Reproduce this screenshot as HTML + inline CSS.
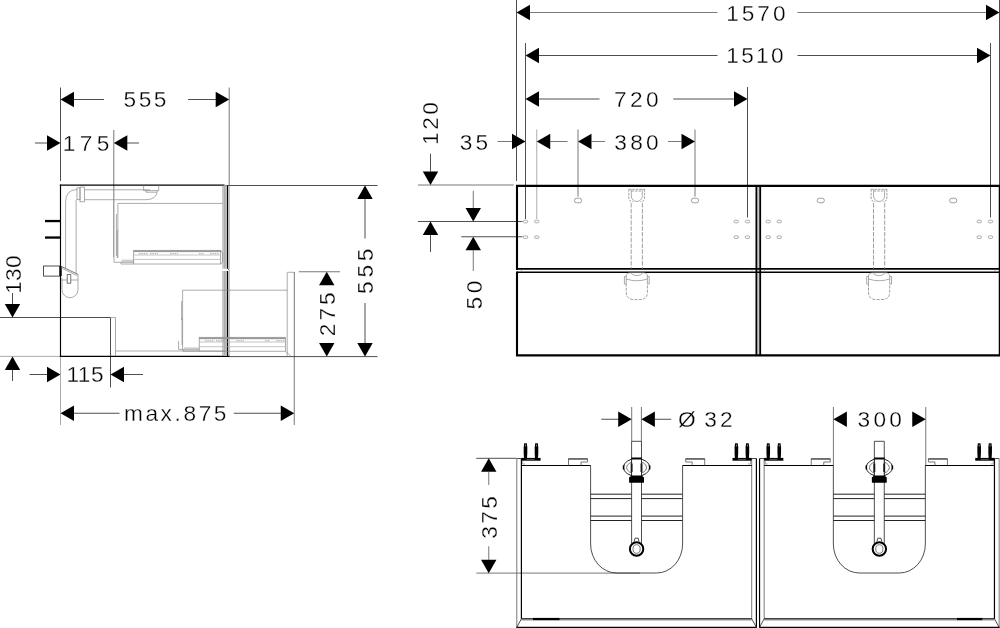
<!DOCTYPE html>
<html><head><meta charset="utf-8"><title>Drawing</title>
<style>
html,body{margin:0;padding:0;background:#fff;}
svg{display:block;}
text{font-family:"Liberation Sans",sans-serif;fill:#000;stroke:#fff;stroke-width:0.3px;paint-order:fill stroke;}
.a{fill:#000;stroke:none;}
.k{stroke:#000;stroke-width:1.5;fill:none;}
.k2{stroke:#000;stroke-width:1.2;fill:none;}
.d{stroke:#222;stroke-width:0.8;fill:none;}
.m{stroke:#555;stroke-width:0.8;fill:none;}
.g{stroke:#888;stroke-width:0.7;fill:none;}
.l{stroke:#aaa;stroke-width:0.7;fill:none;}
.ds{stroke:#777;stroke-width:0.7;fill:none;stroke-dasharray:4.5 1.3;}
.b{fill:#000;stroke:none;}
.f{fill:#bbb;stroke:none;}
</style></head><body>
<svg style="filter:grayscale(1)" width="1000" height="628" viewBox="0 0 1000 628">
<rect x="0" y="0" width="1000" height="628" fill="#fff"/>
<g id="side">
<path class="d" d="M60.5,87.5L60.5,181"/>
<path class="m" d="M229.2,87.5L229.2,185"/>
<polygon class="a" points="60.5,99.5 74.0,91.8 74.0,107.2"/>
<path class="d" d="M74,99.5L104,99.5"/>
<polygon class="a" points="229.2,99.5 215.7,91.8 215.7,107.2"/>
<path class="d" d="M188,99.5L216,99.5"/>
<text transform="translate(123.57,107.3) scale(1.04,1)" font-size="21.8" letter-spacing="2.443">555</text>
<path class="d" d="M35,143L47,143"/>
<polygon class="a" points="60.5,143 47.0,135.3 47.0,150.7"/>
<polygon class="a" points="113.8,143 127.3,135.3 127.3,150.7"/>
<path class="d" d="M127,143L139,143"/>
<path class="m" d="M113.8,130L113.8,257"/>
<text transform="translate(62.64,150.8) scale(1.04,1)" font-size="21.8" letter-spacing="4.334">175</text>
<path class="d" d="M0,317.5L110.5,317.5"/>
<path class="g" d="M0,356.4L60,356.4"/>
<polygon class="a" points="12.5,317.5 4.8,304.0 20.2,304.0"/>
<path class="d" d="M12.5,293L12.5,304"/>
<polygon class="a" points="12.5,356.5 4.8,370.0 20.2,370.0"/>
<path class="d" d="M12.5,370L12.5,381"/>
<text transform="translate(20.7,293.86) rotate(-90) scale(1.04,1)" font-size="21.8" letter-spacing="0.285">130</text>
<path class="d" d="M29.5,374.5L47,374.5"/>
<polygon class="a" points="60.5,374.5 47.0,366.8 47.0,382.2"/>
<polygon class="a" points="110.5,374.5 124.0,366.8 124.0,382.2"/>
<path class="d" d="M123.5,374.5L143,374.5"/>
<path class="d" d="M110.5,317.5L110.5,387.5"/>
<path class="g" d="M60.5,356L60.5,425"/>
<text transform="translate(66.39,382.3) scale(1.04,1)" font-size="21.8" letter-spacing="0.487">115</text>
<polygon class="a" points="60.5,413.25 74.0,405.55 74.0,420.95"/>
<path class="d" d="M74,413.25L119.5,413.25"/>
<polygon class="a" points="294.25,413.25 280.75,405.55 280.75,420.95"/>
<path class="d" d="M233.75,413.25L281,413.25"/>
<path class="m" d="M294.25,356L294.25,425"/>
<text transform="translate(123.93,421.1) scale(1.04,1)" font-size="21.8" letter-spacing="2.499">max.875</text>
<path class="d" d="M225,185.5L377.5,185.5"/>
<path class="d" d="M229,356.6L377.5,356.6"/>
<polygon class="a" points="365,185.5 357.3,199.0 372.7,199.0"/>
<path class="d" d="M365,199L365,238.5"/>
<polygon class="a" points="365,356.6 357.3,343.1 372.7,343.1"/>
<path class="d" d="M365,303L365,343.5"/>
<text transform="translate(372.7,293.93) rotate(-90) scale(1.04,1)" font-size="21.8" letter-spacing="3.645">555</text>
<path class="m" d="M298.75,271.75L340,271.75"/>
<polygon class="a" points="326.75,271.75 319.05,285.25 334.45,285.25"/>
<polygon class="a" points="326.75,356.6 319.05,343.1 334.45,343.1"/>
<text transform="translate(334.7,336.30) rotate(-90) scale(1.04,1)" font-size="21.8" letter-spacing="2.983">275</text>
<path class="k" d="M60.5,184.6V357"  style="stroke-width:1.15"/>
<path class="k2" d="M59.8,185.2L224.6,185.2"/>
<path class="k2" d="M59.8,356.3L229.5,356.3"/>
<path class="g" d="M110,317.5L115.5,317.5"/>
<path class="g" d="M115.5,317.5L115.5,356"/>
<path class="g" d="M115.5,351L224,351"/>
<rect class="f" x="223.9" y="185.5" width="3.4" height="83.19999999999999" />
<path class="l" d="M222.6,185.5L222.6,268.7"/>
<path class="g" d="M223.9,185.5L223.9,268.7"/>
<path class="k2" d="M227.6,185.5L227.6,268.7"/>
<path class="g" d="M229.2,185.5L229.2,268.7"/>
<rect class="f" x="223.9" y="271" width="3.4" height="85" />
<path class="l" d="M222.6,271L222.6,356"/>
<path class="g" d="M223.9,271L223.9,356"/>
<path class="k2" d="M227.6,271L227.6,356"/>
<path class="g" d="M229.2,271L229.2,356"/>
<path class="d" d="M227.6,268.7L229.6,270.2" />
<rect class="b" x="45" y="219.9" width="15.5" height="2.3" />
<rect class="b" x="45" y="236.4" width="15.5" height="2.3" />
<rect class="d" x="43.6" y="266" width="16.9" height="10.1" />
<rect class="b" x="59.3" y="266" width="2.4" height="10.1" />
<path class="g" d="M84.6,189.8H150 M84.6,199.7H146 Q156.5,199.7 157.5,190.6" />
<path class="g" d="M143.6,185.5V190.6H158.7V185.5 M146,190.6V192.2H156.5" />
<rect class="g" x="80" y="187.1" width="4.6" height="14.7" />
<rect class="g" x="77" y="187.9" width="3" height="11.8" />
<path class="g" d="M77,189.5 Q65.6,189.8 65.6,202 V268.5" />
<path class="g" d="M76.1,199.7 V273.5" />
<path class="g" d="M62,278 V289.7 A8,8 0 0 0 78,289.7 V274.4" />
<path class="m" d="M78,274.4 L60.8,266.2" />
<path class="g" d="M61,267.8 L77,275.6 M61.5,280 H67.2 M70.8,280 H78" />
<rect class="m" x="67.2" y="274.6" width="3.6" height="8.6" />
<path class="g" d="M117.9,258 V203.4 H222.6" />
<path class="g" d="M116.4,214 V256 M117.2,230 V258" />
<path class="g" d="M114,257 V262.3 H134 M121,262.3 V264 H134" />
<rect class="f" x="121.5" y="259.6" width="12" height="3.4"  style="opacity:0.7"/>
<rect class="g" x="133.7" y="250.3" width="87" height="13.7" />
<rect class="f" x="133.7" y="250.3" width="87" height="1.8"  style="fill:#999"/>
<path class="l" d="M133.7,255H220.7 M133.7,259.4H220.7" />
<path class="g" d="M139,253.6h9 M150,253.6h8 M170,253.6h8 M199,253.6h5 M210,253.6h9"  style="stroke-dasharray:1.5 0.8"/>
<path class="g" d="M220.7,250.3 L222.6,253 V262 L220.7,264" />
<path class="g" d="M182.6,349 V290.2 H287.2" />
<path class="g" d="M181.6,301 V320 M182,318 V345" />
<path class="g" d="M178.6,341 V349.4 H199 M183,349.4 V351.2 H199" />
<rect class="f" x="184" y="347.4" width="15" height="3.4"  style="opacity:0.7"/>
<rect class="g" x="199.2" y="337.3" width="86.2" height="13.9" />
<rect class="f" x="199.2" y="337.3" width="86.2" height="1.9"  style="fill:#999"/>
<path class="l" d="M199.2,342H285.4 M199.2,346.7H285.4" />
<path class="g" d="M205,340.7h9 M216,340.7h8 M236,340.7h8 M265,340.7h5 M276,340.7h9"  style="stroke-dasharray:1.5 0.8"/>
<path class="g" d="M285.4,351.2 L291,356.3" />
<path class="g" d="M287.2,356 V272.3 H294.3" />
<path class="m" d="M294.3,272L294.3,356.5"/>
</g>
<g id="front">
<path class="d" d="M516.5,0L516.5,181"/>
<path class="d" d="M525.5,43L525.5,219"/>
<path class="d" d="M999.5,0L999.5,185"/>
<path class="d" d="M990.5,43L990.5,217.5"/>
<path class="d" d="M747.5,87L747.5,217.5"/>
<path class="g" d="M536.75,129.5L536.75,219"/>
<path class="m" d="M578,129.5L578,196.5"/>
<path class="m" d="M695,129.5L695,196.5"/>
<polygon class="a" points="516.5,12.5 530.0,4.8 530.0,20.2"/>
<path class="m" d="M530,12.5L717.5,12.5"/>
<polygon class="a" points="999.5,12.5 986.0,4.8 986.0,20.2"/>
<path class="m" d="M797.5,12.5L986,12.5"/>
<text transform="translate(726.24,20.6) scale(1.04,1)" font-size="21.8" letter-spacing="2.847">1570</text>
<polygon class="a" points="525.5,55.5 539.0,47.8 539.0,63.2"/>
<path class="d" d="M539,55.5L717.5,55.5"/>
<polygon class="a" points="990.5,55.5 977.0,47.8 977.0,63.2"/>
<path class="d" d="M797.5,55.5L977,55.5"/>
<text transform="translate(726.24,63.3) scale(1.04,1)" font-size="21.8" letter-spacing="2.206">1510</text>
<polygon class="a" points="525.5,99 539.0,91.3 539.0,106.7"/>
<path class="d" d="M539,99L599.5,99"/>
<polygon class="a" points="747.5,99 734.0,91.3 734.0,106.7"/>
<path class="d" d="M673.25,99L734,99"/>
<text transform="translate(614.08,106.8) scale(1.04,1)" font-size="21.8" letter-spacing="3.194">720</text>
<path class="m" d="M497.5,141.5L512,141.5"/>
<polygon class="a" points="525.5,141.5 512.0,133.8 512.0,149.2"/>
<polygon class="a" points="536.75,141.5 550.25,133.8 550.25,149.2"/>
<path class="m" d="M550,141.5L567.5,141.5"/>
<polygon class="a" points="578,141.5 591.5,133.8 591.5,149.2"/>
<path class="m" d="M591.5,141.5L605,141.5"/>
<polygon class="a" points="695,141.5 681.5,133.8 681.5,149.2"/>
<path class="m" d="M668,141.5L681.5,141.5"/>
<text transform="translate(459.86,149.7) scale(1.04,1)" font-size="21.8" letter-spacing="2.881">35</text>
<text transform="translate(614.36,149.7) scale(1.04,1)" font-size="21.8" letter-spacing="3.060">380</text>
<path class="m" d="M418,185L513.75,185"/>
<path class="d" d="M418,221.5L522.5,221.5"/>
<path class="d" d="M461.25,236.75L522.5,236.75"/>
<path class="d" d="M430.5,153.75L430.5,171.5"/>
<polygon class="a" points="430.5,185 422.8,171.5 438.2,171.5"/>
<polygon class="a" points="430.5,221.5 422.8,235.0 438.2,235.0"/>
<path class="d" d="M430.5,235L430.5,252"/>
<text transform="translate(438.3,145.01) rotate(-90) scale(1.04,1)" font-size="21.8" letter-spacing="2.472">120</text>
<path class="m" d="M473.25,190.75L473.25,208"/>
<polygon class="a" points="473.25,221.5 465.55,208.0 480.95,208.0"/>
<polygon class="a" points="473.25,236.75 465.55,250.25 480.95,250.25"/>
<path class="m" d="M473.25,250L473.25,271"/>
<text transform="translate(481.7,309.43) rotate(-90) scale(1.04,1)" font-size="21.8" letter-spacing="3.383">50</text>
<rect class="f" x="757.3" y="186" width="2" height="169"  style="fill:#ccc"/>
<path class="k" d="M517,185.85 H1000 M517,355.35 H1000 M517,184.8 V270 M517,271.5 V356.4 M999.8,184.8V356.4"  style="stroke-width:2.1"/>
<path class="k" d="M517,268.85H1000"  style="stroke-width:1.8"/>
<path class="k" d="M517,272.3H1000"  style="stroke-width:1.6"/>
<path class="k" d="M756.4,185.5V355.5 M760.2,185.5V355.5"  style="stroke-width:1.8"/>
<path class="g" d="M521.4,270V271.5 M752,270V271.5 M764.6,270V271.5 M995,270V271.5" />
<rect class="g" x="574.4" y="198.2" width="7.2" height="4.6" rx="2.3" style="stroke:#777"/>
<rect class="g" x="691.4" y="198.2" width="7.2" height="4.6" rx="2.3" style="stroke:#777"/>
<rect class="g" x="817.15" y="198.2" width="7.2" height="4.6" rx="2.3" style="stroke:#777"/>
<rect class="g" x="949.65" y="198.2" width="7.2" height="4.6" rx="2.3" style="stroke:#777"/>
<rect class="g" x="523.3" y="220.2" width="4.4" height="2.6" rx="1.3"/>
<rect class="g" x="523.3" y="235.89999999999998" width="4.4" height="2.6" rx="1.3"/>
<rect class="g" x="534.55" y="220.2" width="4.4" height="2.6" rx="1.3"/>
<rect class="g" x="534.55" y="235.89999999999998" width="4.4" height="2.6" rx="1.3"/>
<rect class="g" x="734.05" y="220.2" width="4.4" height="2.6" rx="1.3"/>
<rect class="g" x="734.05" y="235.89999999999998" width="4.4" height="2.6" rx="1.3"/>
<rect class="g" x="745.3" y="220.2" width="4.4" height="2.6" rx="1.3"/>
<rect class="g" x="745.3" y="235.89999999999998" width="4.4" height="2.6" rx="1.3"/>
<rect class="g" x="766.05" y="220.2" width="4.4" height="2.6" rx="1.3"/>
<rect class="g" x="766.05" y="235.89999999999998" width="4.4" height="2.6" rx="1.3"/>
<rect class="g" x="777.05" y="220.2" width="4.4" height="2.6" rx="1.3"/>
<rect class="g" x="777.05" y="235.89999999999998" width="4.4" height="2.6" rx="1.3"/>
<rect class="g" x="977.05" y="220.2" width="4.4" height="2.6" rx="1.3"/>
<rect class="g" x="977.05" y="235.89999999999998" width="4.4" height="2.6" rx="1.3"/>
<rect class="g" x="988.3" y="220.2" width="4.4" height="2.6" rx="1.3"/>
<rect class="g" x="988.3" y="235.89999999999998" width="4.4" height="2.6" rx="1.3"/>
<g transform="translate(0,0)">
<path class="ds" d="M631.2,203V269 M642.4,203V269" />
<path class="ds" d="M628.8,189.3 V197 Q628.8,201.8 633,201.8 M644.6,189.3 V197 Q644.6,201.8 640.5,201.8 M628.8,189.3H644.6 M631.5,191H642"  style="stroke-dasharray:2.5 1"/>
<path class="g" d="M631.3,189.5 V196 A5.5,5.5 0 0 0 642.3,196 V189.5" />
<path class="ds" d="M626.2,283.5 V292 Q626.2,299.6 634,299.6 H639.6 Q647.4,299.6 647.4,292 V283.5"  style="stroke-dasharray:3 1.2"/>
<path class="g" d="M626.2,276 Q626.2,272.6 631,272.6 H642.6 Q647.4,272.6 647.4,276 V283.5 M626.2,276V283.5" />
<path class="g" d="M624.4,276.5 V284 H626.2 M649.2,276.5V284H647.4 M624.4,276.5H626.2 M649.2,276.5H647.4" />
<path class="g" d="M626.2,279 Q636.8,282.5 647.4,279" />
<path class="g" d="M631.2,272.6 A5.6,3 0 0 0 642.4,272.6" />
</g>
<g transform="translate(242.3,0)">
<path class="ds" d="M631.2,203V269 M642.4,203V269" />
<path class="ds" d="M628.8,189.3 V197 Q628.8,201.8 633,201.8 M644.6,189.3 V197 Q644.6,201.8 640.5,201.8 M628.8,189.3H644.6 M631.5,191H642"  style="stroke-dasharray:2.5 1"/>
<path class="g" d="M631.3,189.5 V196 A5.5,5.5 0 0 0 642.3,196 V189.5" />
<path class="ds" d="M626.2,283.5 V292 Q626.2,299.6 634,299.6 H639.6 Q647.4,299.6 647.4,292 V283.5"  style="stroke-dasharray:3 1.2"/>
<path class="g" d="M626.2,276 Q626.2,272.6 631,272.6 H642.6 Q647.4,272.6 647.4,276 V283.5 M626.2,276V283.5" />
<path class="g" d="M624.4,276.5 V284 H626.2 M649.2,276.5V284H647.4 M624.4,276.5H626.2 M649.2,276.5H647.4" />
<path class="g" d="M626.2,279 Q636.8,282.5 647.4,279" />
<path class="g" d="M631.2,272.6 A5.6,3 0 0 0 642.4,272.6" />
</g>
</g>
<g id="top">
<path class="m" d="M631.7,407L631.7,441.2"/>
<path class="m" d="M641.4,407L641.4,441.2"/>
<path class="d" d="M601.25,419.25L618.5,419.25"/>
<polygon class="a" points="631.7,419.25 618.2,411.55 618.2,426.95"/>
<polygon class="a" points="641.4,419.25 654.9,411.55 654.9,426.95"/>
<path class="d" d="M655,419.25L671.25,419.25"/>
<text transform="translate(678.05,427.1) scale(1.04,1)" font-size="21.8" letter-spacing="0.000">Ø</text>
<text transform="translate(704.36,427.1) scale(1.04,1)" font-size="21.8" letter-spacing="2.860">32</text>
<path class="m" d="M833.4,407L833.4,465.5"/>
<path class="m" d="M925.75,407L925.75,465.5"/>
<polygon class="a" points="833.4,419.25 846.9,411.55 846.9,426.95"/>
<polygon class="a" points="925.75,419.25 912.25,411.55 912.25,426.95"/>
<text transform="translate(857.61,427.1) scale(1.04,1)" font-size="21.8" letter-spacing="3.060">300</text>
<path class="d" d="M476.25,458.3L516.5,458.3"/>
<path class="m" d="M476.25,573.1L640,573.1"/>
<polygon class="a" points="488.75,458.3 481.05,471.8 496.45,471.8"/>
<path class="m" d="M488.75,472L488.75,485"/>
<polygon class="a" points="488.75,573.2 481.05,559.7 496.45,559.7"/>
<path class="m" d="M488.75,546.25L488.75,560"/>
<text transform="translate(497.2,538.64) rotate(-90) scale(1.04,1)" font-size="21.8" letter-spacing="2.302">375</text>
<g transform="translate(0,0)">
<path class="m" d="M516.8,458.5L516.8,627.3"/>
<path class="k2" d="M521.4,458.5L521.4,618.8"/>
<path class="m" d="M751.7,458.5L751.7,618.8"/>
<path class="k2" d="M756.4,458.5L756.4,627.3"/>
<path class="d" d="M516.8,458.5H521.4 M751.7,458.5H756.4" />
<path class="k2" d="M521.4,618.8 H751.7" />
<path class="k2" d="M516.4,627.3 H756.8" />
<path class="d" d="M516.8,627.3 L521.4,618.8 M756.4,627.3 L751.7,618.8" />
<path class="l" d="M521.4,620.4L751.7,620.4"/>
<path class="k2" d="M521.4,465.5 H590.6 M682.5,465.5 H751.7" />
<path class="d" d="M590.6,465.5 V544 A26,29 0 0 0 616.6,573 H656.6 A26,29 0 0 0 682.6,544 V465.5" />
<path class="m" d="M568.5,465.5 V458.6 H587.5 V462 H581.0 V465.5" />
<path class="d" d="M568.5,459.2L587.5,459.2"/>
<path class="m" d="M704.7,465.5 V458.6 H685.7 V462 H692.2 V465.5" />
<path class="d" d="M685.7,459.2L704.7,459.2"/>
<path class="b" d="M524.2,443.3 h2.6 l0.5,4 v6 l-0.3,5 h-3 l-0.3,-5 v-6 z" />
<rect class="f" x="525.1" y="444.5" width="0.8" height="2"  style="fill:#999"/>
<path class="b" d="M535.2,443.3 h2.6 l0.5,4 v6 l-0.3,5 h-3 l-0.3,-5 v-6 z" />
<rect class="f" x="536.1" y="444.5" width="0.8" height="2"  style="fill:#999"/>
<path class="b" d="M735.1,443.3 h2.6 l0.5,4 v6 l-0.3,5 h-3 l-0.3,-5 v-6 z" />
<rect class="f" x="736.0" y="444.5" width="0.8" height="2"  style="fill:#999"/>
<path class="b" d="M746.1,443.3 h2.6 l0.5,4 v6 l-0.3,5 h-3 l-0.3,-5 v-6 z" />
<rect class="f" x="747.0" y="444.5" width="0.8" height="2"  style="fill:#999"/>
<rect class="b" x="521.4" y="457.9" width="19.2" height="2.8" />
<rect class="b" x="732.5" y="457.9" width="19.2" height="2.8" />
<rect class="f" x="526.5" y="458.9" width="8" height="0.7"  style="fill:#777"/>
<rect class="f" x="738" y="458.9" width="8" height="0.7"  style="fill:#777"/>
<path class="g" d="M522.6,461 V464 H525 M750.5,461 V464 H748" />
<path class="d" d="M590.6,494.2H631.6 M641.5,494.2H682.5"  style="stroke-width:1"/>
<path class="d" d="M590.6,498.6H631.6 M641.5,498.6H682.5"  style="stroke-width:1"/>
<path class="d" d="M590.6,516.1H631.6 M641.5,516.1H682.5"  style="stroke-width:1"/>
<path class="d" d="M590.6,520.5H631.6 M641.5,520.5H682.5"  style="stroke-width:1"/>
<path class="d" d="M631.6,441.3 V543.5 M641.5,441.3 V543.5 M631.6,441.3 H641.5" />
<ellipse class="d" cx="636.6" cy="467.4" rx="13.1" ry="8.9" style="stroke-width:1"/>
<ellipse class="m" cx="636.6" cy="467.6" rx="10" ry="6.3"/>
<rect class="f" x="632" y="457.6" width="9.1" height="19"  style="fill:#fff"/>
<rect class="b" x="631.2" y="457.5" width="10.7" height="2" />
<rect class="b" x="622.8" y="465.4" width="1.5" height="4" />
<rect class="b" x="648.9" y="465.4" width="1.5" height="4" />
<path class="k" d="M631.6,463.5V472 M641.5,463.5V472"  style="stroke-width:1.8"/>
<path class="d" d="M631.6,458 V476.5 M641.5,458 V476.5" />
<rect class="b" x="630.6" y="475.5" width="12" height="1.6" />
<rect class="b" x="629.1" y="476.8" width="14.9" height="6" rx="0.9"/>
<path class="d" d="M634.2,541.5 L635,538.2 H638.2 L639,541.5" />
<circle cx="636.6" cy="549" r="6.7" fill="#fff" stroke="#000" stroke-width="2"/>
<ellipse class="m" cx="636.6" cy="549" rx="3.6" ry="4.3"/>
</g>
<g transform="translate(242.75,0)">
<path class="k2" d="M516.8,458.5L516.8,627.3"/>
<path class="m" d="M521.4,458.5L521.4,618.8"/>
<path class="k2" d="M751.7,458.5L751.7,618.8"/>
<path class="m" d="M756.4,458.5L756.4,627.3"/>
<path class="d" d="M516.8,458.5H521.4 M751.7,458.5H756.4" />
<path class="k2" d="M521.4,618.8 H751.7" />
<path class="k2" d="M516.4,627.3 H756.8" />
<path class="d" d="M516.8,627.3 L521.4,618.8 M756.4,627.3 L751.7,618.8" />
<path class="l" d="M521.4,620.4L751.7,620.4"/>
<path class="k2" d="M521.4,465.5 H590.6 M682.5,465.5 H751.7" />
<path class="d" d="M590.6,465.5 V544 A26,29 0 0 0 616.6,573 H656.6 A26,29 0 0 0 682.6,544 V465.5" />
<path class="m" d="M568.5,465.5 V458.6 H587.5 V462 H581.0 V465.5" />
<path class="d" d="M568.5,459.2L587.5,459.2"/>
<path class="m" d="M704.7,465.5 V458.6 H685.7 V462 H692.2 V465.5" />
<path class="d" d="M685.7,459.2L704.7,459.2"/>
<path class="b" d="M524.2,443.3 h2.6 l0.5,4 v6 l-0.3,5 h-3 l-0.3,-5 v-6 z" />
<rect class="f" x="525.1" y="444.5" width="0.8" height="2"  style="fill:#999"/>
<path class="b" d="M535.2,443.3 h2.6 l0.5,4 v6 l-0.3,5 h-3 l-0.3,-5 v-6 z" />
<rect class="f" x="536.1" y="444.5" width="0.8" height="2"  style="fill:#999"/>
<path class="b" d="M735.1,443.3 h2.6 l0.5,4 v6 l-0.3,5 h-3 l-0.3,-5 v-6 z" />
<rect class="f" x="736.0" y="444.5" width="0.8" height="2"  style="fill:#999"/>
<path class="b" d="M746.1,443.3 h2.6 l0.5,4 v6 l-0.3,5 h-3 l-0.3,-5 v-6 z" />
<rect class="f" x="747.0" y="444.5" width="0.8" height="2"  style="fill:#999"/>
<rect class="b" x="521.4" y="457.9" width="19.2" height="2.8" />
<rect class="b" x="732.5" y="457.9" width="19.2" height="2.8" />
<rect class="f" x="526.5" y="458.9" width="8" height="0.7"  style="fill:#777"/>
<rect class="f" x="738" y="458.9" width="8" height="0.7"  style="fill:#777"/>
<path class="g" d="M522.6,461 V464 H525 M750.5,461 V464 H748" />
<path class="d" d="M590.6,494.2H631.6 M641.5,494.2H682.5"  style="stroke-width:1"/>
<path class="d" d="M590.6,498.6H631.6 M641.5,498.6H682.5"  style="stroke-width:1"/>
<path class="d" d="M590.6,516.1H631.6 M641.5,516.1H682.5"  style="stroke-width:1"/>
<path class="d" d="M590.6,520.5H631.6 M641.5,520.5H682.5"  style="stroke-width:1"/>
<path class="d" d="M631.6,441.3 V543.5 M641.5,441.3 V543.5 M631.6,441.3 H641.5" />
<ellipse class="d" cx="636.6" cy="467.4" rx="13.1" ry="8.9" style="stroke-width:1"/>
<ellipse class="m" cx="636.6" cy="467.6" rx="10" ry="6.3"/>
<rect class="f" x="632" y="457.6" width="9.1" height="19"  style="fill:#fff"/>
<rect class="b" x="631.2" y="457.5" width="10.7" height="2" />
<rect class="b" x="622.8" y="465.4" width="1.5" height="4" />
<rect class="b" x="648.9" y="465.4" width="1.5" height="4" />
<path class="k" d="M631.6,463.5V472 M641.5,463.5V472"  style="stroke-width:1.8"/>
<path class="d" d="M631.6,458 V476.5 M641.5,458 V476.5" />
<rect class="b" x="630.6" y="475.5" width="12" height="1.6" />
<rect class="b" x="629.1" y="476.8" width="14.9" height="6" rx="0.9"/>
<path class="d" d="M634.2,541.5 L635,538.2 H638.2 L639,541.5" />
<circle cx="636.6" cy="549" r="6.7" fill="#fff" stroke="#000" stroke-width="2"/>
<ellipse class="m" cx="636.6" cy="549" rx="3.6" ry="4.3"/>
</g>
<rect class="b" x="533" y="617.9" width="26.5" height="2.2" />
<rect class="b" x="957" y="617.9" width="25.3" height="2.2" />
</g>
</svg>
</body></html>
